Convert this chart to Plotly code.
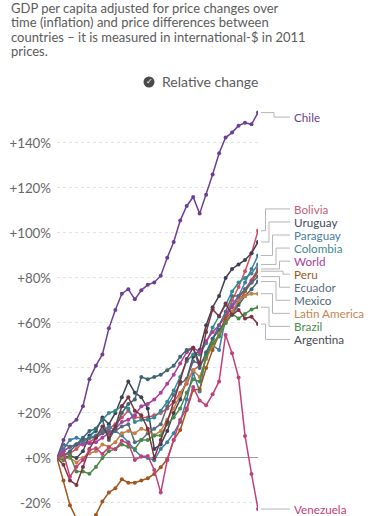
import plotly.graph_objects as go

years = list(range(1987, 2019))

chile = [0, 8, 14.7, 17, 23, 35, 41, 46, 57.6, 65.8, 73, 75, 70.5, 74.5, 77, 78, 81, 89, 96, 105.5, 112, 116, 108.6, 117, 126, 135.4, 142.4, 144.6, 147.7, 149, 148.3, 153.5]
bolivia = [0, 1, 2, 4, 7, 7, 9, 11, 13, 15, 18, 21, 18, 18, 18, 19, 20, 22, 25, 29, 33, 39, 41, 45, 50, 55, 63, 70, 76, 83, 91, 101]
uruguay = [0, 0, 1, 0, 3, 10, 12, 18, 15, 20, 27, 34, 29, 27, 22, 4, 6, 12, 20, 26, 35, 45, 48, 59, 67, 72, 80, 84, 86, 88, 91, 96]
paraguay = [0, 4, 8, 9, 8, 9, 10, 12, 14, 12, 10, 7, 3.5, 0.6, 0, -1, 4, 7, 11, 16, 26, 38, 29.5, 46, 50, 48, 62, 68, 72, 78, 84, 90]
colombia = [0, 3, 5, 6, 7, 9, 13, 17, 20, 21, 23, 22, 16, 17, 17, 18, 21, 25, 30, 36, 43, 46, 46, 51, 58, 63, 68, 74, 78, 80, 82, 86]
world = [0, 3, 5, 6, 6, 6.5, 7, 9, 11, 13, 16, 17, 19, 23, 24, 26, 29, 33, 37, 42, 47, 49, 47, 52, 56, 59, 63, 67, 71, 75, 79, 84]
peru = [0, -10, -21, -27, -27, -29, -25.3, -19.4, -15.3, -13.5, -9.5, -11, -11, -10, -9, -7.1, -4.1, -0.6, 8, 12.4, 21.3, 30.2, 30.5, 40, 48, 55, 62, 65, 69, 74, 78, 83]
ecuador = [0, 6, 5, 6, 8, 9, 9, 11, 12, 12, 14, 15, 7, 8, 11, 13, 15, 23, 28, 33, 35, 43, 42, 45, 53, 59, 65, 72, 72, 75, 78, 80.6]
mexico = [0, 1, 3, 6, 9, 12, 13, 17, 8, 13, 20, 24, 26, 36, 35, 36, 37, 39, 41, 45, 48, 49, 40, 47, 53, 57, 60, 64, 68, 72, 75, 78.4]
latin_america = [0, 0, 0, -2, 0, 2, 3, 6, 5, 7, 11, 12, 11, 13, 12, 10, 12, 17, 22, 28, 34, 39, 36, 44, 50, 55, 60, 65, 70, 72, 73, 73]
brazil = [0, -1, 1, -6, -6, -7, -4, 0, 3, 4, 6, 5, 4, 8, 8, 10, 10, 15, 18, 22, 29, 35, 34, 45, 51, 54, 60, 64, 62, 64, 66, 67]
argentina = [0, -3, -10, -12, -4, 4, 9, 14, 9, 14, 23, 27, 21, 19, 13, 0, 8, 16, 25, 34, 44, 49, 42, 56, 66, 63, 68.7, 63.5, 65.8, 62, 62.8, 59.5]
venezuela = [0, 2, -8.3, -3.9, -0.9, 3.5, 4.3, 1.8, 4.7, 3.9, 7.6, 6.5, -0.9, 0.6, 0.9, -5.3, -15.4, -1, 8, 17, 22, 31.5, 25.5, 23.4, 28.3, 34, 54.7, 46.5, 35.8, 9.8, -7.1, -22.7]

names = ["Chile", "Bolivia", "Uruguay", "Paraguay", "Colombia", "World", "Peru",
         "Ecuador", "Mexico", "Latin America", "Brazil", "Argentina", "Venezuela"]
series = [chile, bolivia, uruguay, paraguay, colombia, world, peru,
          ecuador, mexico, latin_america, brazil, argentina, venezuela]
colors = ["#6D3E91", "#D0505F", "#3C4050", "#3E7CA6", "#2F8C93", "#A8409E", "#A2561F",
          "#58687E", "#3D6673", "#C47F45", "#4A8A47", "#7A3540", "#C2407A"]
label_colors = ["#6D3E91", "#C5607A", "#45485A", "#4A7C9E", "#3F8A90", "#A8409E", "#A2561F",
                "#5E6C7E", "#4A6876", "#C08850", "#4E8A4C", "#4A4A52", "#C2407A"]

ytick_vals = [-20, 0, 20, 40, 60, 80, 100, 120, 140]
ytick_text = ["-20%", "+0%", "+20%", "+40%", "+60%", "+80%", "+100%", "+120%", "+140%"]

W, H = 370, 516
ML, MR, MT, MB = 57, 112, 100, 0
PW = W - ML - MR
PH = H - MT - MB
Y0, Y1 = -25.8, 159.1

def px_to_paper_x(px):
    return (px - ML) / PW

def py_to_paper_y(py):
    return (H - MB - py) / PH

fig = go.Figure()
for i in range(len(names)):
    fig.add_trace(go.Scatter(
        x=years, y=series[i], mode="lines+markers", name=names[i],
        line=dict(color=colors[i], width=1.5),
        marker=dict(color=colors[i], size=4),
        showlegend=False, hoverinfo="skip"))

# label placement (resolve overlaps in data units)
gap = 5.8
top_limit = 151.5
items = sorted([(min(series[i][-1], top_limit), series[i][-1], i) for i in range(len(names))], reverse=True)
groups = [[it] for it in items]

def layout_group(g):
    c = sum(t for t, _, _ in g) / len(g)
    n = len(g)
    return [c + ((n - 1) / 2 - k) * gap for k in range(n)]

changed = True
while changed:
    changed = False
    for gi in range(len(groups) - 1):
        a = layout_group(groups[gi])
        b = layout_group(groups[gi + 1])
        if a[-1] - b[0] < gap:
            groups[gi] = groups[gi] + groups[gi + 1]
            del groups[gi + 1]
            changed = True
            break

shapes = []
annotations = []
label_px = 292
for g in groups:
    pos = layout_group(g)
    n = len(g)
    c = (n - 1) / 2
    for k, ((t, v, i), ly) in enumerate(zip(g, pos)):
        vx = 283 - 3.5 * abs(k - c) if n > 1 else 274
        x_start = px_to_paper_x(261)
        x_v = px_to_paper_x(vx)
        x_end = px_to_paper_x(label_px - 2)
        line = dict(color="#b5b5b5", width=1)
        shapes.append(dict(type="line", xref="paper", yref="y", x0=x_start, x1=x_v, y0=v, y1=v, line=line))
        shapes.append(dict(type="line", xref="paper", yref="y", x0=x_v, x1=x_v, y0=v, y1=ly, line=line))
        shapes.append(dict(type="line", xref="paper", yref="y", x0=x_v, x1=x_end, y0=ly, y1=ly, line=line))
        annotations.append(dict(
            x=px_to_paper_x(label_px), y=ly, xref="paper", yref="y",
            text=names[i], showarrow=False, xanchor="left", yanchor="middle",
            font=dict(family="Lato", size=11.7, color=label_colors[i])))

# subtitle text
subtitle = ["GDP per capita adjusted for price changes over",
            "time (inflation) and price differences between",
            "countries \u2013 it is measured in international-$ in 2011",
            "prices."]
for k, t in enumerate(subtitle):
    annotations.append(dict(
        x=px_to_paper_x(9), y=py_to_paper_y(8 + 14.3 * k), xref="paper", yref="paper",
        text=t, showarrow=False, xanchor="left", yanchor="middle",
        font=dict(family="Lato", size=13, color="#5b5b5b")))

# "Relative change" toggle
cx, cy, r = 149, 82, 5.5
shapes.append(dict(type="circle", xref="paper", yref="paper",
                   x0=px_to_paper_x(cx - r), x1=px_to_paper_x(cx + r),
                   y0=py_to_paper_y(cy + r), y1=py_to_paper_y(cy - r),
                   fillcolor="#4a4a4a", line=dict(width=0)))
annotations.append(dict(x=px_to_paper_x(cx), y=py_to_paper_y(cy), xref="paper", yref="paper",
                        text="\u2713", showarrow=False, xanchor="center", yanchor="middle",
                        font=dict(family="DejaVu Sans", size=8, color="white")))
annotations.append(dict(x=px_to_paper_x(160), y=py_to_paper_y(cy), xref="paper", yref="paper",
                        text="Relative change", showarrow=False, xanchor="left", yanchor="middle",
                        font=dict(family="Lato", size=14, color="#5b5b5b")))

fig.update_layout(
    width=W, height=H, autosize=False,
    margin=dict(l=ML, r=MR, t=MT, b=MB, pad=0),
    paper_bgcolor="white", plot_bgcolor="white",
    shapes=shapes, annotations=annotations,
    xaxis=dict(range=[1987, 2018], showgrid=False, zeroline=False, showticklabels=False,
               showline=False, ticks=""),
    yaxis=dict(range=[Y0, Y1], tickvals=ytick_vals, ticktext=ytick_text,
               showgrid=True, gridcolor="#e3e3e3", griddash="dot", gridwidth=1,
               zeroline=True, zerolinecolor="#9a9a9a", zerolinewidth=1,
               showline=False, ticks="", ticklabelstandoff=5,
               tickfont=dict(family="Lato", size=13.3, color="#666666")),
    font=dict(family="Lato"),
)

fig.write_html("out.html", config={"displayModeBar": False},
               post_script="document.body.style.margin='0';")
